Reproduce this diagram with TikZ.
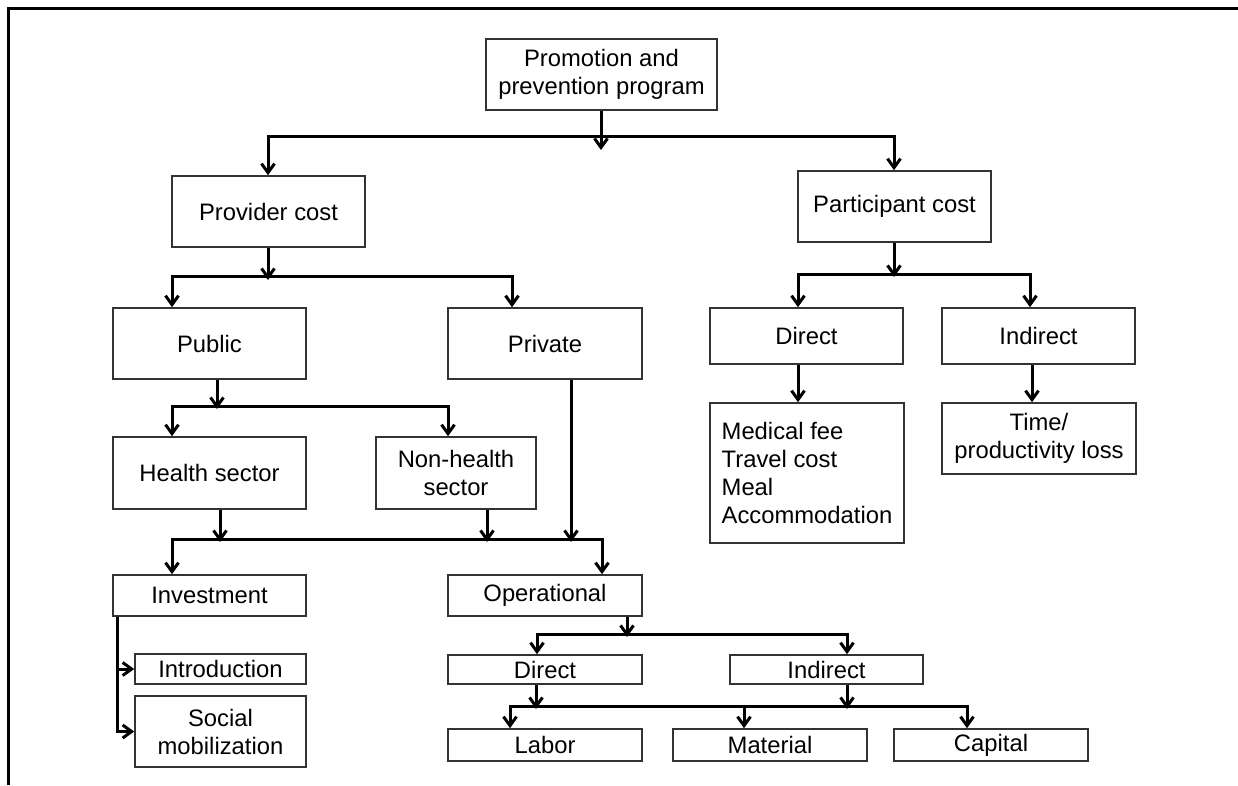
\documentclass[tikz,border=0pt]{standalone}
\usepackage{fontspec}
\setmainfont{Liberation Sans}
\usetikzlibrary{arrows.meta}

\tikzset{
  box/.style={draw=black!80, line width=1.6pt, inner sep=0pt, text=black,
    font=\fontsize{23.8}{28}\selectfont},
  arr/.style={line width=3pt, -{Straight Barb[length=9pt,width=13pt]}},
  twoway/.style={line width=3pt, {Straight Barb[length=9pt,width=13pt]}-{Straight Barb[length=9pt,width=13pt]}}
}

\begin{document}
\begin{tikzpicture}[x=1pt, y=-1pt]
  \useasboundingbox (0,0) rectangle (1238,785);

  % frame
  \draw[line width=2.8pt] (8.5,785) -- (8.5,8.5) -- (1238,8.5);

  % top
  \node[box, minimum width=231pt, minimum height=71pt, align=center] (promo) at (601.5,74.5) {Promotion and\\prevention program};

  % provider side
  \node[box, minimum width=193pt, minimum height=71pt] (prov) at (268.5,211.5) {Provider cost};
  \node[box, minimum width=193pt, minimum height=71pt] (pub) at (209.5,343.5) {Public};
  \node[box, minimum width=194pt, minimum height=71pt] (priv) at (545,343.5) {Private};
  \node[box, minimum width=193pt, minimum height=72pt] (hs) at (209.5,473) {Health sector};
  \node[box, minimum width=160pt, minimum height=72pt, align=center] (nh) at (456,473) {Non-health\\sector};
  \node[box, minimum width=193pt, minimum height=41pt] (inv) at (209.5,595.5) {Investment};
  \node[box, minimum width=194pt, minimum height=41pt] (op) at (545,595.5) {Operational};
  \node[box, minimum width=171pt, minimum height=30pt] (intro) at (220.5,669) {Introduction};
  \node[box, minimum width=171pt, minimum height=71pt, align=center] (soc) at (220.5,731.5) {Social\\mobilization};
  \node[box, minimum width=194pt, minimum height=29pt] (odir) at (545,669.5) {Direct};
  \node[box, minimum width=193pt, minimum height=29pt] (oind) at (826.5,669.5) {Indirect};
  \node[box, minimum width=194pt, minimum height=32pt] (lab) at (545,745) {Labor};
  \node[box, minimum width=194pt, minimum height=32pt] (mat) at (770,745) {Material};
  \node[box, minimum width=194pt, minimum height=32pt] (cap) at (991,745) {Capital};

  % participant side
  \node[box, minimum width=193pt, minimum height=71pt] (part) at (894.5,206.5) {Participant cost};
  \node[box, minimum width=193pt, minimum height=56pt] (pdir) at (806.5,336) {Direct};
  \node[box, minimum width=193pt, minimum height=56pt] (pind) at (1038.5,336) {Indirect};
  \node[box, minimum width=194pt, minimum height=140pt, align=left] (fees) at (807,473) {Medical fee\\Travel cost\\Meal\\Accommodation};
  \node[box, minimum width=194pt, minimum height=71pt, align=center] (time) at (1039,438.5) {Time/\\productivity loss};

  % drops from a parent onto its bus
  \foreach \src/\x/\y in {promo/601/150, prov/268/280, part/894/277, pub/217/409,
      hs/220/542, nh/487/542, priv/571/542, op/627/637, odir/536/709, oind/847/709}{
    \coordinate (tip) at (\x,\y);
    \draw[arr] (tip |- \src.south) -- (tip);
  }

  % buses down to the children
  \foreach \a/\b/\xa/\xb/\y in {prov/part/268/894/136, pub/priv/172/512/276,
      pdir/pind/798/1030/274, hs/nh/172/448/406, inv/op/172/602/539,
      odir/oind/537/847/634, lab/cap/510/967/706}{
    \coordinate (bl) at (\xa,\y);
    \coordinate (br) at (\xb,\y);
    \draw[twoway] (bl |- \a.north) -- (bl) -- (br) -- (br |- \b.north);
  }
  \coordinate (mid) at (744,706);
  \draw[arr] (mid) -- (mid |- mat.north);

  % single links
  \foreach \src/\dst/\x in {pdir/fees/798, pind/time/1032}{
    \coordinate (lk) at (\x,0);
    \draw[arr] (lk |- \src.south) -- (lk |- \dst.north);
  }

  % investment branches
  \coordinate (ib) at (117,0);
  \draw[arr] (ib |- inv.south) |- (intro.west);
  \draw[arr] (ib |- inv.south) |- (soc.west);
\end{tikzpicture}
\end{document}
